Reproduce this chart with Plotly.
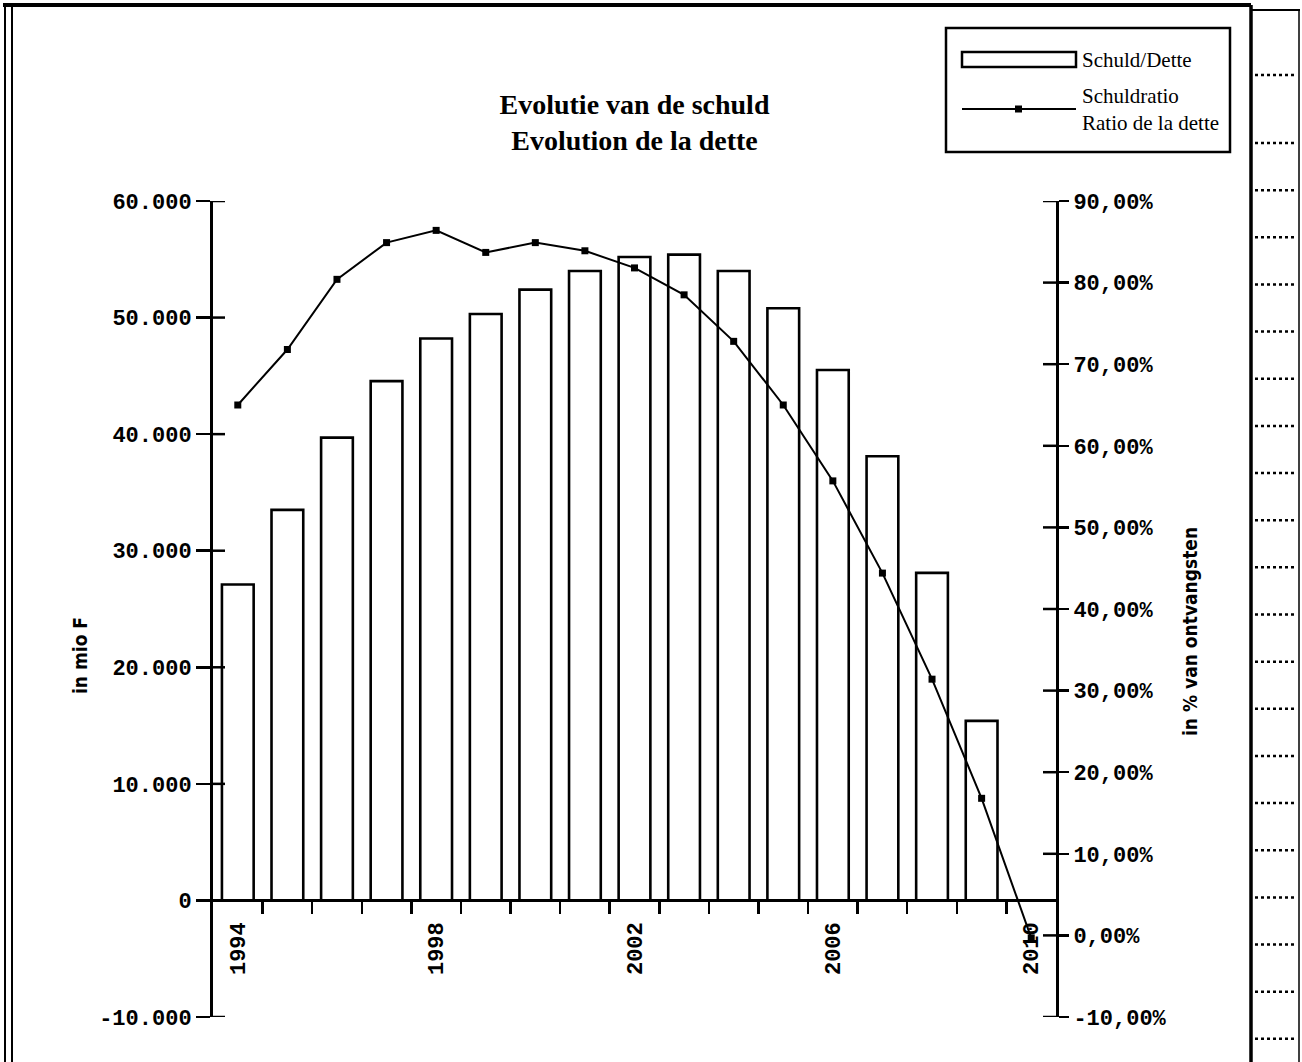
import plotly.graph_objects as go

# ---------------- data ----------------
years_bar = list(range(1994, 2010))
debt = [27100, 33500, 39700, 44550, 48200, 50300, 52400, 54000,
        55200, 55400, 54000, 50800, 45500, 38100, 28100, 15400]
years_ratio = list(range(1994, 2011))
ratio = [65.0, 71.8, 80.4, 84.9, 86.4, 83.7, 84.9, 83.9, 81.8,
         78.5, 72.8, 65.0, 55.7, 44.4, 31.4, 16.8, -0.3]
left_ticks = [-10000, 0, 10000, 20000, 30000, 40000, 50000, 60000]
right_ticks = [-10, 0, 10, 20, 30, 40, 50, 60, 70, 80, 90]
year_labels = [1994, 1998, 2002, 2006, 2010]
bar_name = "Schuld/Dette"
line_name = "Schuldratio<br>Ratio de la dette"
title_text = "Evolutie van de schuld<br>Evolution de la dette"
left_title = "in mio F"
right_title = "in % van ontvangsten"

# ---------------- layout geometry ----------------
W, H = 1302, 1062
L, R, T, B = 213, 1056, 201, 1017
x_range = [years_bar[0] - 0.5, years_ratio[-1] + 0.5]
y_range = [left_ticks[0], left_ticks[-1]]
y2_range = [right_ticks[0], right_ticks[-1]]
zero_pos = (0 - y_range[0]) / (y_range[1] - y_range[0])


def px(x):
    return (x - L) / (R - L)


def py(y):
    return (B - y) / (B - T)


def fmt_left(v):
    s = f"{abs(v):,}".replace(",", ".")
    return ("-" if v < 0 else "") + s


def fmt_right(v):
    s = f"{abs(v):.2f}".replace(".", ",") + "%"
    return ("-" if v < 0 else "") + s


tick_font = dict(family="Liberation Mono, DejaVu Sans Mono, monospace",
                 size=22, color="black", weight="bold")
black = "black"

fig = go.Figure()
fig.add_trace(go.Bar(x=years_bar, y=debt, name=bar_name,
                     marker=dict(color="white", line=dict(color=black, width=2.6)),
                     width=0.64, xaxis="x", yaxis="y", showlegend=False))
fig.add_trace(go.Scatter(x=years_ratio, y=ratio, name=line_name,
                         mode="lines+markers",
                         line=dict(color=black, width=2),
                         marker=dict(symbol="square", size=7, color=black),
                         xaxis="x", yaxis="y2", showlegend=False))
# invisible helper trace so the label axis gets drawn
fig.add_trace(go.Scatter(x=[x_range[0]], y=[y_range[0]], mode="markers",
                         marker=dict(opacity=0), xaxis="x2", yaxis="y",
                         showlegend=False, hoverinfo="skip"))

axis_common = dict(showgrid=False, zeroline=False, fixedrange=True)

fig.update_layout(
    width=W, height=H,
    margin=dict(l=L, r=W - R, t=T, b=H - B, pad=0),
    paper_bgcolor="white", plot_bgcolor="white",
    showlegend=False,
    title=dict(text=title_text, x=0.5, xref="paper", xanchor="center",
               y=1 - 114 / H, yref="container", yanchor="middle",
               font=dict(family="Liberation Serif, Times New Roman, serif",
                         size=28, color=black, weight="bold")),
    xaxis=dict(range=x_range, anchor="free", position=zero_pos,
               tickmode="array",
               tickvals=[y + 0.5 for y in years_bar],
               ticks="outside", ticklen=12, tickwidth=2.5, tickcolor=black,
               showticklabels=False, showline=True, linewidth=3, linecolor=black,
               **axis_common),
    xaxis2=dict(range=x_range, overlaying="x", anchor="free", position=zero_pos,
                tickmode="array", tickvals=year_labels,
                ticktext=[str(v) for v in year_labels],
                tickangle=-90, ticks="outside", ticklen=12,
                tickcolor="rgba(0,0,0,0)", tickfont=tick_font,
                showline=False, **axis_common),
    yaxis=dict(range=y_range, tickmode="array", tickvals=left_ticks,
               ticktext=[fmt_left(v) for v in left_ticks],
               ticks="outside", ticklen=14, tickwidth=2.5, tickcolor=black,
               tickfont=tick_font, showline=True, linewidth=3, linecolor=black,
               **axis_common),
    yaxis2=dict(range=y2_range, overlaying="y", side="right",
                tickmode="array", tickvals=right_ticks,
                ticktext=[fmt_right(v) for v in right_ticks],
                ticks="outside", ticklen=10, tickwidth=2.5, tickcolor=black,
                tickfont=tick_font, showline=True, linewidth=3, linecolor=black,
                **axis_common),
)

shapes = []
# tick stubs on the inner side so the ticks cross the axis lines
for v in left_ticks:
    shapes.append(dict(type="line", xref="paper", yref="y", x0=0, x1=px(L + 12),
                       y0=v, y1=v, line=dict(color=black, width=2.5)))
for v in right_ticks:
    shapes.append(dict(type="line", xref="paper", yref="y2", x0=px(R - 13), x1=1,
                       y0=v, y1=v, line=dict(color=black, width=2.5)))

# axis titles
axis_title_font = dict(family="Liberation Sans Narrow, DejaVu Sans Condensed, Arial Narrow, sans-serif",
                       size=19, color=black, weight="bold")
fig.add_annotation(text=left_title, x=px(80), y=py(656), xref="paper", yref="paper",
                   textangle=-90, showarrow=False, font=axis_title_font,
                   xanchor="center", yanchor="middle")
fig.add_annotation(text=right_title, x=px(1190), y=py(632), xref="paper", yref="paper",
                   textangle=-90, showarrow=False, font=axis_title_font,
                   xanchor="center", yanchor="middle")

# legend (drawn)
shapes.append(dict(type="rect", xref="paper", yref="paper",
                   x0=px(946), x1=px(1230), y0=py(28), y1=py(152),
                   line=dict(color=black, width=2.5), fillcolor="white", layer="above"))
shapes.append(dict(type="rect", xref="paper", yref="paper",
                   x0=px(962), x1=px(1076), y0=py(52), y1=py(67),
                   line=dict(color=black, width=2.5), fillcolor="white", layer="above"))
shapes.append(dict(type="line", xref="paper", yref="paper",
                   x0=px(962), x1=px(1076), y0=py(109), y1=py(109),
                   line=dict(color=black, width=2), layer="above"))
shapes.append(dict(type="rect", xref="paper", yref="paper",
                   x0=px(1015), x1=px(1022), y0=py(105.5), y1=py(112.5),
                   line=dict(color=black, width=0), fillcolor=black, layer="above"))
legend_font = dict(family="Liberation Serif, Times New Roman, serif", size=21, color=black)
fig.add_annotation(text=bar_name, x=px(1080), y=py(60), xref="paper", yref="paper",
                   showarrow=False, xanchor="left", yanchor="middle", font=legend_font)
fig.add_annotation(text=line_name, x=px(1080), y=py(110), xref="paper", yref="paper",
                   showarrow=False, xanchor="left", yanchor="middle", align="left",
                   font=legend_font)


# page frame (scan decoration)
def hline(x0, x1, y, w, dash="solid"):
    shapes.append(dict(type="line", xref="paper", yref="paper",
                       x0=px(x0), x1=px(x1), y0=py(y), y1=py(y),
                       line=dict(color=black, width=w, dash=dash), layer="above"))


def vline(x, y0, y1, w):
    shapes.append(dict(type="line", xref="paper", yref="paper",
                       x0=px(x), x1=px(x), y0=py(y0), y1=py(y1),
                       line=dict(color=black, width=w), layer="above"))


hline(3, 1251, 5, 4)
vline(5, 5, H, 2)
vline(12, 5, H, 2)
hline(1251, 1300, 10, 2)
vline(1251, 5, H, 3.5)
vline(1299, 10, H, 1.5)
dot_rows = [75] + [143 + 47.15 * k for k in range(20)]
for yy in dot_rows:
    hline(1255, 1297, yy, 2.5, dash="dot")

fig.update_layout(shapes=shapes)

fig.write_html("out.html", config={"displayModeBar": False, "staticPlot": True},
               post_script="document.body.style.margin='0';document.body.style.overflow='hidden';")
